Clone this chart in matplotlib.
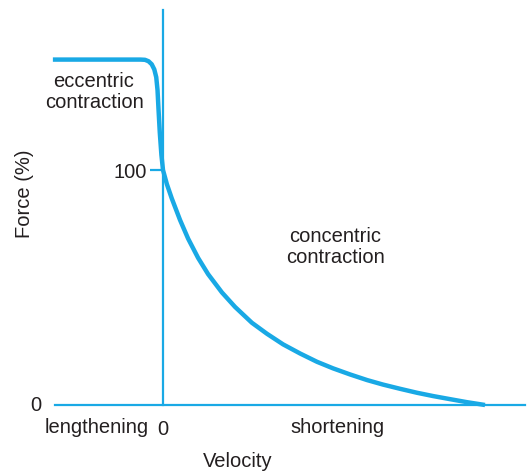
import matplotlib
matplotlib.use("Agg")
import matplotlib.pyplot as plt

# Force-velocity curve (velocity normalised to v_max = 1)
ecc_velocity = [-0.342, -0.070, -0.056, -0.045, -0.035, -0.027, -0.021, -0.017,
                -0.014, -0.010, -0.005, 0.0]
ecc_force = [147.0, 147.0, 146.9, 146.3, 145.0, 142.8, 139.5, 134.0,
             126.0, 116.0, 106.5, 100.0]

con_velocity = [0.0, 0.012, 0.027, 0.053, 0.078, 0.109, 0.140, 0.183, 0.224, 0.276,
                0.323, 0.373, 0.426, 0.478, 0.528, 0.581, 0.634, 0.683, 0.736,
                0.789, 0.839, 0.891, 0.944, 1.0]
con_force = [100.0, 94.0, 88.0, 78.7, 70.8, 62.6, 55.7, 47.9, 41.7, 35.0,
             30.3, 25.8, 21.9, 18.4, 15.6, 13.0, 10.6, 8.7, 6.9,
             5.2, 3.8, 2.5, 1.2, 0.0]

blue = "#19a9e5"
ink = "#231f20"
plt.rcParams["font.family"] = ["Liberation Sans", "DejaVu Sans"]
fs = 14.5

W, H = 527, 473
fig = plt.figure(figsize=(W / 100, H / 100), dpi=100)
ax = fig.add_axes([55 / W, (H - 405) / H, 470 / W, 395 / H])

ax.plot(ecc_velocity + con_velocity[1:], ecc_force + con_force[1:],
        color=blue, lw=3.2, solid_capstyle="butt", solid_joinstyle="round",
        clip_on=False, zorder=3)

ax.set_xlim(-0.3354, 1.1242)
ax.set_ylim(0, 168.1)

for s in ["top", "right"]:
    ax.spines[s].set_visible(False)
ax.spines["left"].set_position(("data", 0))
for s in ["left", "bottom"]:
    ax.spines[s].set_color(blue)
    ax.spines[s].set_linewidth(1.6)

ax.set_yticks([100])
ax.set_yticklabels(["100"])
ax.tick_params(axis="y", colors=blue, labelcolor=ink, length=9.5, width=1.6,
               pad=2, labelsize=fs)
ax.set_xticks([0])
ax.set_xticklabels(["0"])
ax.tick_params(axis="x", length=0, labelcolor=ink, pad=11, labelsize=fs)

ax.set_xlabel("Velocity", fontsize=fs, color=ink, va="center")
ax.xaxis.set_label_coords(0.389, -0.144)
ax.set_ylabel("Force (%)", fontsize=fs, color=ink, va="center")
ax.yaxis.set_label_coords(-0.064, 0.535)

ax.text(-0.041, 0, "0", transform=ax.transAxes, ha="center", va="center",
        fontsize=fs, color=ink)
ax.text(0.088, -0.058, "lengthening", transform=ax.transAxes, ha="center",
        va="center", fontsize=fs, color=ink)
ax.text(0.602, -0.058, "shortening", transform=ax.transAxes, ha="center",
        va="center", fontsize=fs, color=ink)
ax.text(0.083, 0.792, "eccentric\ncontraction", transform=ax.transAxes,
        ha="center", va="center", fontsize=fs, color=ink, linespacing=1.1)
ax.text(0.596, 0.4, "concentric\ncontraction", transform=ax.transAxes,
        ha="center", va="center", fontsize=fs, color=ink, linespacing=1.1)

fig.savefig("out.png", dpi=100)
